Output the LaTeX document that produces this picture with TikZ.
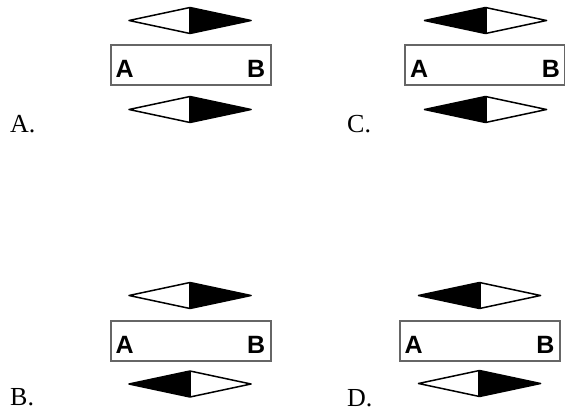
\documentclass[tikz,border=0pt]{standalone}
\usepackage{fontspec}
\setmainfont{Liberation Serif}
\newfontfamily\boxfont{Liberation Sans}
\begin{document}
\begin{tikzpicture}[x=1pt,y=-1pt,
  lbl/.style={anchor=base west,inner sep=0pt,font=\fontsize{26}{28}\selectfont},
  abbox/.style={draw=black!60,line width=2pt,minimum width=160pt,minimum height=40pt,inner sep=0pt},
  boxtxt/.style={inner sep=0pt,font=\boxfont\bfseries\fontsize{25}{26}\selectfont},
  diaedge/.style={line width=1.5pt,line join=round},
  wb/.pic={
    \fill[white] (-61,0)--(0,-13)--(0,13)--cycle;
    \fill[black] (0,-13)--(61,0)--(0,13)--cycle;
    \draw[diaedge] (-61,0)--(0,-13)--(61,0)--(0,13)--cycle;
    \draw[line width=2.5pt] (0,-13)--(0,13);
  },
  bw/.pic={
    \fill[black] (-61,0)--(0,-13)--(0,13)--cycle;
    \fill[white] (0,-13)--(61,0)--(0,13)--cycle;
    \draw[diaedge] (-61,0)--(0,-13)--(61,0)--(0,13)--cycle;
    \draw[line width=2.5pt] (0,-13)--(0,13);
  }]
\useasboundingbox (0,0) rectangle (565,417);
% Panel A
\node[lbl] (labA) at (10,133) {A.};
\pic at (190,20.5) {wb};
\node[abbox] (boxA) at (190.5,65) {};
\node[boxtxt,anchor=base west] (aA) at ([xshift=6pt,yshift=8pt]boxA.south west) {A};
\node[boxtxt,anchor=base east] (bA) at ([xshift=-6pt,yshift=8pt]boxA.south east) {B};
\pic at (190,109.5) {wb};
% Panel C
\node[lbl] (labC) at (347,133) {C.};
\pic at (485.5,20.5) {bw};
\node[abbox] (boxC) at (485,65) {};
\node[boxtxt,anchor=base west] (aC) at ([xshift=6pt,yshift=8pt]boxC.south west) {A};
\node[boxtxt,anchor=base east] (bC) at ([xshift=-6pt,yshift=8pt]boxC.south east) {B};
\pic at (485.5,109.5) {bw};
% Panel B
\node[lbl] (labB) at (10,405) {B.};
\pic at (190,295.5) {wb};
\node[abbox] (boxB) at (190.5,340.5) {};
\node[boxtxt,anchor=base west] (aB) at ([xshift=6pt,yshift=8pt]boxB.south west) {A};
\node[boxtxt,anchor=base east] (bB) at ([xshift=-6pt,yshift=8pt]boxB.south east) {B};
\pic at (190,384) {bw};
% Panel D
\node[lbl] (labD) at (347,406) {D.};
\pic at (479.5,295.5) {bw};
\node[abbox] (boxD) at (479.5,340.5) {};
\node[boxtxt,anchor=base west] (aD) at ([xshift=6pt,yshift=8pt]boxD.south west) {A};
\node[boxtxt,anchor=base east] (bD) at ([xshift=-6pt,yshift=8pt]boxD.south east) {B};
\pic at (479.5,383.5) {wb};
\end{tikzpicture}
\end{document}
